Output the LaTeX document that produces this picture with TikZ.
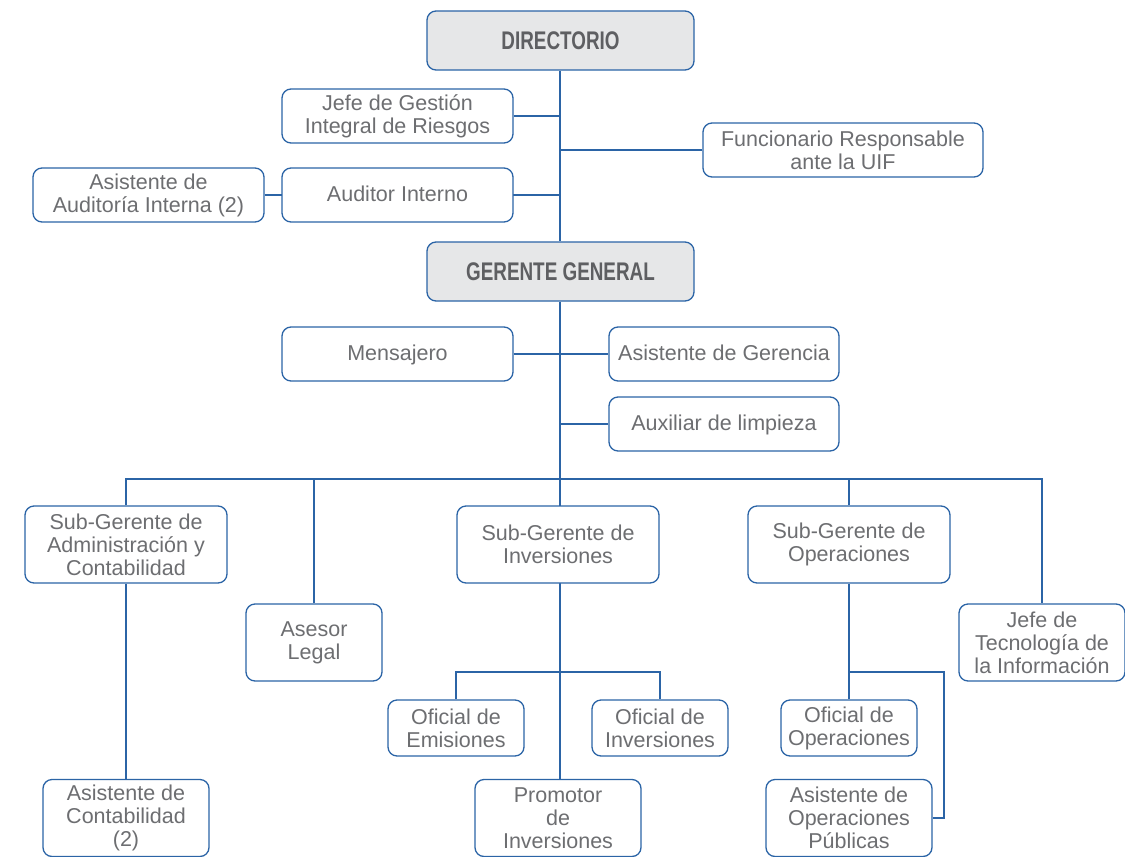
\documentclass[tikz,border=0pt]{standalone}
\usepackage{fontspec}
\usetikzlibrary{backgrounds}
\setmainfont{Liberation Sans}
\newfontfamily\headfont[FakeStretch=0.74]{Liberation Sans}
\definecolor{bblue}{HTML}{2B64A6}
\definecolor{tgray}{HTML}{6D6E71}
\definecolor{hgray}{HTML}{5E5F62}
\definecolor{hfill}{HTML}{E6E7E8}
\begin{document}
\begin{tikzpicture}[x=1pt,y=-1pt,
  box/.style={draw=bblue, fill=white, line width=1.3pt, rounded corners=9pt, align=center,
    text=tgray, inner sep=0pt, font=\fontsize{21.5}{23}\selectfont},
  single/.style={box, text depth=2pt},
  head/.style={box, fill=hfill, text=hgray, font=\headfont\bfseries\fontsize{25.5}{27}\selectfont},
  conn/.style={draw=bblue, line width=1.3pt}]
\useasboundingbox (0,0) rectangle (1125,857);
% top level
\node[head, minimum width=267, minimum height=59] (dir) at (560.5,40.5) {DIRECTORIO};
\node[box, minimum width=231, minimum height=54] (jgir) at (397.5,116) {Jefe de Gestión\\Integral de Riesgos};
\node[box, minimum width=280, minimum height=54] (fru) at (843,150) {Funcionario Responsable\\ante la UIF};
\node[box, minimum width=231, minimum height=54] (aai) at (148.5,195) {Asistente de\\Auditoría Interna (2)};
\node[single, minimum width=231, minimum height=54] (ai) at (397.5,195) {Auditor Interno};
\node[head, minimum width=267, minimum height=59] (gg) at (560.5,271.5) {GERENTE GENERAL};
\node[single, minimum width=231, minimum height=54] (mens) at (397.5,354) {Mensajero};
\node[single, minimum width=230, minimum height=54] (asge) at (724,354) {Asistente de Gerencia};
\node[single, minimum width=230, minimum height=54] (aux) at (724,424) {Auxiliar de limpieza};
% second level
\node[box, minimum width=202, minimum height=77] (sgadm) at (126,544.5) {Sub-Gerente de\\Administración y\\Contabilidad};
\node[box, minimum width=136, minimum height=77] (asl) at (314,642.5) {Asesor\\Legal};
\node[box, minimum width=202, minimum height=77] (sginv) at (558,544.5) {Sub-Gerente de\\Inversiones};
\node[box, minimum width=202, minimum height=77] (sgop) at (849,544.5) {Sub-Gerente de\\Operaciones};
\node[box, minimum width=166, minimum height=77] (jti) at (1042,642.5) {Jefe de\\Tecnología de\\la Información};
% third level
\node[box, minimum width=136, minimum height=56] (ofem) at (456,728) {Oficial de\\Emisiones};
\node[box, minimum width=136, minimum height=56] (ofinv) at (660,728) {Oficial de\\Inversiones};
\node[box, minimum width=166, minimum height=77] (promo) at (558,818) {Promotor\\de\\Inversiones};
\node[box, minimum width=136, minimum height=56] (ofop) at (849,728) {Oficial de\\Operaciones};
\node[box, minimum width=166, minimum height=77] (asop) at (849,818) {Asistente de\\Operaciones\\Públicas};
\node[box, minimum width=166, minimum height=77] (asco) at (126,818) {Asistente de\\Contabilidad\\(2)};
% coordinates
\coordinate (bus) at (560,479);
\coordinate (inbr) at (560,672);
\coordinate (opr) at (944,672);
% connectors
\begin{scope}[on background layer]
\draw[conn] (dir.south -| 560,0) -- (gg.north -| 560,0);
\draw[conn] (jgir.east) -- (jgir.east -| 560,0);
\draw[conn] (fru.west) -- (fru.west -| 560,0);
\draw[conn] (aai.east) -- (aai.east -| 560,0);
\draw[conn] (gg.south -| 560,0) -- (promo.north -| 560,0);
\draw[conn] (mens.east) -- (asge.west);
\draw[conn] (aux.west) -- (aux.west -| bus);
\draw[conn] (sgadm.north) |- (bus) -| (jti.north);
\draw[conn] (asl.north) -- (asl.north |- bus);
\draw[conn] (sgop.north) -- (sgop.north |- bus);
\draw[conn] (sgadm.south) -- (asco.north);
\draw[conn] (ofem.north) |- (inbr) -| (ofinv.north);
\draw[conn] (sgop.south) -- (ofop.north);
\draw[conn] (sgop.south |- opr) -- (opr) |- (asop.east);
\end{scope}
\end{tikzpicture}
\end{document}
